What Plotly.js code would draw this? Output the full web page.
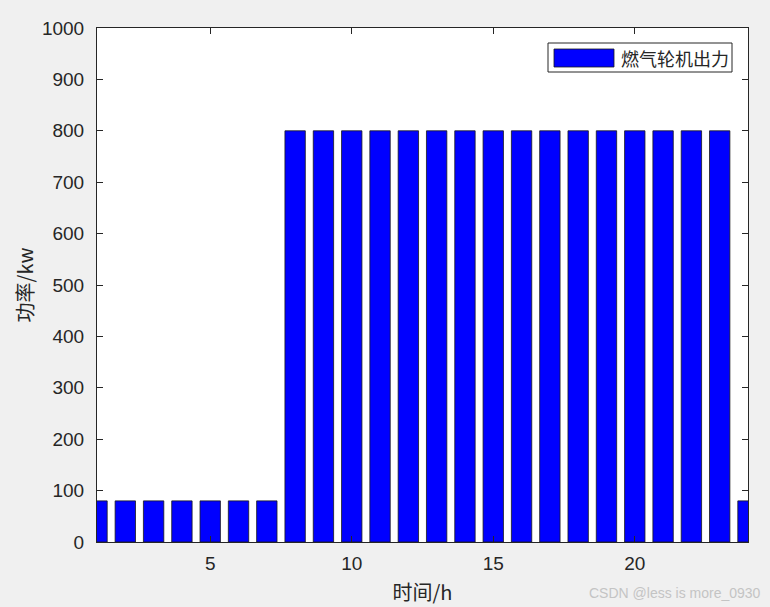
<!DOCTYPE html>
<html>
<head>
<meta charset="utf-8">
<script src="https://cdn.plot.ly/plotly-3.0.1.min.js"></script>
<style>html,body{margin:0;padding:0;background:#f0f0f0;}#chart{width:770px;height:607px;}</style>
</head>
<body>
<div id="chart"></div>
<script>
// Data
const hours = [1,2,3,4,5,6,7,8,9,10,11,12,13,14,15,16,17,18,19,20,21,22,23,24];
const gasTurbinePower = [80,80,80,80,80,80,80,800,800,800,800,800,800,800,800,800,800,800,800,800,800,800,800,80];
const seriesName = '燃气轮机出力';
const xTicks = [5,10,15,20];
const yTicks = [0,100,200,300,400,500,600,700,800,900,1000];

const axisColor = '#262626';
const tickFont = {family: 'Liberation Sans, Arial, sans-serif', size: 19, color: axisColor};
const cjkFont = {family: 'Noto Sans CJK SC, sans-serif', size: 20, color: axisColor};

const trace = {
  type: 'bar',
  x: hours,
  y: gasTurbinePower,
  name: seriesName,
  marker: {color: '#0000ff', line: {color: '#1a1a1a', width: 0.8}},
  showlegend: false,
  hoverinfo: 'x+y'
};

const layout = {
  width: 770, height: 607,
  paper_bgcolor: '#f0f0f0',
  plot_bgcolor: '#ffffff',
  margin: {l: 97, r: 22, t: 28, b: 65},
  bargap: 0.28,
  xaxis: {
    range: [1, 24],
    tickvals: xTicks,
    ticktext: xTicks.map(String),
    ticks: 'inside', ticklen: 6, tickcolor: axisColor, tickwidth: 1,
    showline: true, linecolor: axisColor, linewidth: 1, mirror: 'ticks',
    showgrid: false, zeroline: false,
    tickfont: tickFont,
    ticklabelstandoff: 4,
    title: {text: '时间/h', font: cjkFont, standoff: 13}
  },
  yaxis: {
    range: [0, 1000],
    tickvals: yTicks,
    ticktext: yTicks.map(String),
    ticks: 'inside', ticklen: 6, tickcolor: axisColor, tickwidth: 1,
    showline: true, linecolor: axisColor, linewidth: 1, mirror: 'ticks',
    showgrid: false, zeroline: false,
    tickfont: tickFont,
    ticklabelstandoff: 8,
    title: {text: '功率/kw', font: cjkFont, standoff: 2}
  },
  shapes: [
    {type: 'rect', xref: 'paper', yref: 'paper', x0: (548-97)/651, x1: (732-97)/651, y0: (542-72)/514, y1: (542-43)/514,
     fillcolor: '#ffffff', line: {color: '#262626', width: 1}},
    {type: 'rect', xref: 'paper', yref: 'paper', x0: (554-97)/651, x1: (614-97)/651, y0: (542-67)/514, y1: (542-49)/514,
     fillcolor: '#0000ff', line: {color: '#1a1a1a', width: 0.8}}
  ],
  annotations: [
    {xref: 'paper', yref: 'paper', x: (619-97)/651, y: (542-58)/514, xanchor: 'left', yanchor: 'middle',
     text: seriesName, showarrow: false, font: {family: 'Noto Sans CJK SC, sans-serif', size: 18, color: '#262626'}},
    {xref: 'paper', yref: 'paper', x: (763-97)/651, y: (542-593)/514, xanchor: 'right', yanchor: 'middle',
     text: 'CSDN @less is more_0930', showarrow: false, font: {family: 'Liberation Sans, Arial, sans-serif', size: 14, color: '#c4c4c4'}}
  ]
};

Plotly.newPlot('chart', [trace], layout, {displayModeBar: false, staticPlot: true});
</script>
</body>
</html>
